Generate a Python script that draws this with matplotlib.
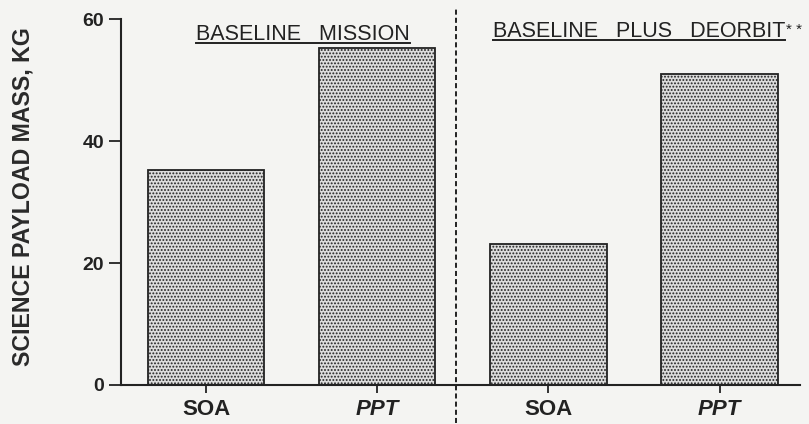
import matplotlib
matplotlib.use("Agg")
import matplotlib.pyplot as plt
from matplotlib.lines import Line2D

categories = ["SOA", "PPT", "SOA", "PPT"]
values = [35.2, 55.2, 23.1, 51.0]
yticks = [0, 20, 40, 60]
group_titles = ["BASELINE   MISSION", "BASELINE   PLUS   DEORBIT"]

plt.rcParams['font.family'] = ['Liberation Sans', 'DejaVu Sans']
plt.rcParams['hatch.linewidth'] = 0.9
plt.rcParams['hatch.color'] = '#505050'

bg = '#f4f4f2'
fig = plt.figure(figsize=(8.09, 4.24), dpi=100, facecolor=bg)
ax = fig.add_axes([0.1496, 0.092, 0.8394, 0.863])
ax.set_facecolor(bg)

x = list(range(len(values)))
ax.bar(x, values, width=0.68, facecolor='#dcdcdc', edgecolor='#222222',
       linewidth=1.3, hatch='.....')

ax.set_xlim(-0.497, 3.47)
ax.set_ylim(0, 60)
ax.set_yticks(yticks)
ax.set_yticklabels([str(v) for v in yticks], fontsize=14, fontweight='bold', color='#222222')
ax.set_xticks(x)
ax.set_xticklabels(categories, fontsize=16, fontweight='bold', color='#222222')
for lab in ax.get_xticklabels():
    if lab.get_text() == 'PPT':
        lab.set_style('italic')

for s in ['top', 'right']:
    ax.spines[s].set_visible(False)
ax.spines['left'].set_linewidth(1.5)
ax.spines['bottom'].set_linewidth(1.5)
ax.spines['left'].set_color('#222222')
ax.spines['bottom'].set_color('#222222')
ax.tick_params(axis='y', direction='out', length=9, width=1.3, pad=3, colors='#222222')
ax.tick_params(axis='x', direction='out', length=6, width=1.3, pad=4, colors='#222222')

ax.set_ylabel("SCIENCE PAYLOAD MASS, KG", fontsize=16.7, fontweight='bold',
              color='#2a2a2a', labelpad=0)
ax.yaxis.set_label_coords(-0.128, 0.516)

# dashed divider
ax.axvline(1.46, ymin=-0.105, ymax=1.03, clip_on=False, color='#222222',
           linewidth=1.4, linestyle=(0, (2.6, 1.6)))

t1 = ax.text(0.564, 0.943, group_titles[0], transform=ax.get_xaxis_transform(),
             ha='center', va='baseline', fontsize=15.5, color='#222222')
t2 = ax.text(2.53, 0.951, group_titles[1], transform=ax.get_xaxis_transform(),
             ha='center', va='baseline', fontsize=15.5, color='#222222')

fig.canvas.draw()
r = fig.canvas.get_renderer()
for t in (t1, t2):
    bb = t.get_window_extent(r)
    yb = bb.y0 + 2
    fig.add_artist(Line2D([bb.x0, bb.x1], [yb, yb], transform=None,
                          color='#222222', linewidth=1.4))
bb = t2.get_window_extent(r)
fig.text(bb.x1 + 1, bb.y1 - 2, "* *", transform=None, fontsize=11,
         ha='left', va='top', color='#222222')

fig.savefig("out.png", dpi=100, facecolor=bg)
